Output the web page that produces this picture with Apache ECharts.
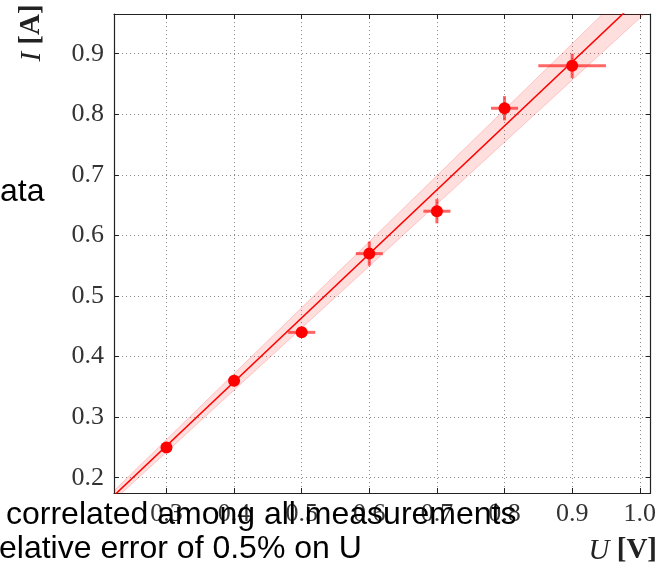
<!DOCTYPE html>
<html><head><meta charset="utf-8">
<script src="https://cdn.jsdelivr.net/npm/echarts@6/dist/echarts.min.js"></script>
<style>html,body{margin:0;padding:0;background:#fff}#c{width:659px;height:571px}</style>
</head><body><div id="c"></div>
<script>
// measurement data
const U    = [0.3, 0.4, 0.5, 0.6, 0.7, 0.8, 0.9];
const I    = [0.25, 0.36, 0.44, 0.57, 0.64, 0.81, 0.88];
const Uerr = [0.005, 0.005, 0.02, 0.02, 0.02, 0.02, 0.05];
const Ierr = [0.005, 0.005, 0.005, 0.02, 0.02, 0.02, 0.02];
// fit line end points
const fitU = [0.2, 1.05];
const fitI = [0.147, 1.045];
// confidence band edges
const bandU  = [0.2, 1.05];
const bandLo = [0.140, 1.010];
const bandHi = [0.154, 1.080];
// tick labels
const xTickLabels = ['0.3','0.4','0.5','0.6','0.7','0.8','0.9','1.0'];
const yTickLabels = ['0.2','0.3','0.4','0.5','0.6','0.7','0.8','0.9'];
// texts
const yName = '{i|I} {b|[A]}';
const xName = '{i|U} {b|[V]}';
const overlayTexts = ['ata', 'correlated among all measurements', 'elative error of 0.5% on U'];

const chart = echarts.init(document.getElementById('c'), null, {renderer: 'canvas'});
const serif = 'Liberation Serif';
const sans = 'Liberation Sans';
const axisCol = '#222';
function fmt(list) {
  return function (v) {
    const s = (Math.round(v * 10) / 10).toFixed(1);
    return (Math.abs(v - parseFloat(s)) < 1e-6 && list.indexOf(s) >= 0) ? s : '';
  };
}
const xMin = 0.2224, xMax = 1.016, yMin = 0.1748, yMax = 0.9656;
function baseAxis(min, max) {
  return {
    type: 'value', min: min, max: max, splitNumber: 8, scale: true,
    axisLine: {show: true, onZero: false, lineStyle: {color: axisCol, width: 1.2}},
    axisTick: {show: true, inside: true, length: 5, lineStyle: {color: axisCol, width: 1}},
  };
}
const rich = {
  i: {font: 'italic 29px ' + serif, fill: '#222'},
  b: {font: 'bold 29px ' + serif, fill: '#222'}
};
const option = {
  animation: false,
  backgroundColor: '#fff',
  grid: {left: 114, top: 14, right: 6, bottom: 78, containLabel: false},
  xAxis: [
    Object.assign(baseAxis(xMin, xMax), {
      position: 'bottom',
      axisLabel: {show: true, showMinLabel: true, showMaxLabel: true, margin: 8, fontFamily: serif, fontSize: 26, color: '#333', formatter: fmt(xTickLabels)},
      splitLine: {show: true, lineStyle: {color: '#8a8a8a', width: 1, type: [1, 3]}}
    }),
    Object.assign(baseAxis(xMin, xMax), {
      position: 'top', axisLabel: {show: false}, splitLine: {show: false}
    })
  ],
  yAxis: [
    Object.assign(baseAxis(yMin, yMax), {
      position: 'left',
      axisLabel: {show: true, showMinLabel: true, showMaxLabel: true, margin: 10, fontFamily: serif, fontSize: 26, color: '#333', formatter: fmt(yTickLabels)},
      splitLine: {show: true, lineStyle: {color: '#8a8a8a', width: 1, type: [1, 3]}}
    }),
    Object.assign(baseAxis(yMin, yMax), {
      position: 'right', axisLabel: {show: false}, splitLine: {show: false}
    })
  ],
  series: [
    {
      type: 'custom', name: 'band', clip: true, silent: true,
      data: [[bandU[0], bandLo[0]]],
      renderItem: function (params, api) {
        const pts = [];
        for (let k = 0; k < bandU.length; k++) pts.push(api.coord([bandU[k], bandLo[k]]));
        for (let k = bandU.length - 1; k >= 0; k--) pts.push(api.coord([bandU[k], bandHi[k]]));
        return {type: 'polygon', shape: {points: pts},
          style: {fill: 'rgba(255,0,0,0.13)', stroke: 'rgba(255,0,0,0.18)', lineWidth: 1}};
      }
    },
    {
      type: 'line', name: 'fit', clip: true, symbol: 'none', silent: true,
      data: fitU.map((u, k) => [u, fitI[k]]),
      lineStyle: {color: '#ff0000', width: 1.5}
    },
    {
      type: 'custom', name: 'errors', clip: false, silent: true,
      encode: {x: 0, y: 1},
      data: U.map((u, k) => [u, I[k], Uerr[k], Ierr[k]]),
      renderItem: function (params, api) {
        const u = api.value(0), i = api.value(1), du = api.value(2), di = api.value(3);
        const a = api.coord([u - du, i]), b = api.coord([u + du, i]);
        const c = api.coord([u, i - di]), d = api.coord([u, i + di]);
        const st = {stroke: 'rgba(255,0,0,0.6)', lineWidth: 3};
        return {type: 'group', children: [
          {type: 'line', shape: {x1: a[0], y1: a[1], x2: b[0], y2: b[1]}, style: st},
          {type: 'line', shape: {x1: c[0], y1: c[1], x2: d[0], y2: d[1]}, style: st}
        ]};
      }
    },
    {
      type: 'scatter', name: 'data', symbol: 'circle', symbolSize: 12, silent: true,
      data: U.map((u, k) => [u, I[k]]),
      itemStyle: {color: '#ff0000', opacity: 1}
    }
  ],
  graphic: [
    {type: 'text', x: 32, y: 33, rotation: Math.PI / 2, z: 100,
      style: {text: yName, rich: rich, align: 'center', verticalAlign: 'middle', fill: '#222', font: '29px ' + serif}},
    {type: 'text', x: 657, y: 551, z: 100,
      style: {text: xName, rich: rich, align: 'right', verticalAlign: 'middle', fill: '#222', font: '29px ' + serif}},
    {type: 'text', x: 0, y: 192, z: 100,
      style: {text: overlayTexts[0], fill: '#000', font: '32px ' + sans, align: 'left', verticalAlign: 'middle'}},
    {type: 'text', x: 6, y: 515, z: 100,
      style: {text: overlayTexts[1], fill: '#000', font: '32px ' + sans, align: 'left', verticalAlign: 'middle'}},
    {type: 'text', x: -1, y: 549, z: 100,
      style: {text: overlayTexts[2], fill: '#000', font: '32px ' + sans, align: 'left', verticalAlign: 'middle'}}
  ]
};
chart.setOption(option);
</script>
</body></html>
